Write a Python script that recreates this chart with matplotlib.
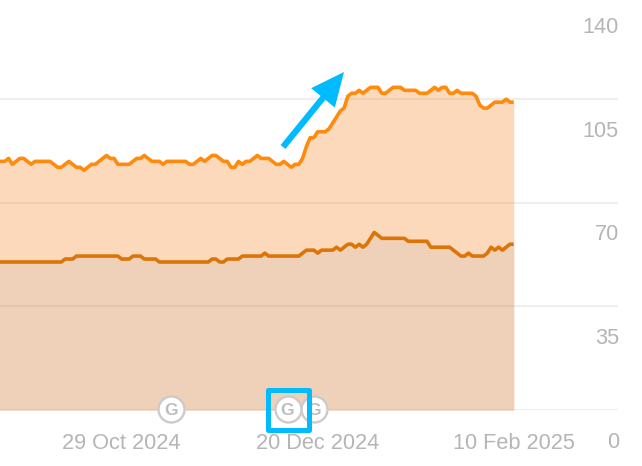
import numpy as np
import pandas as pd
import matplotlib
matplotlib.use("Agg")
import matplotlib.pyplot as plt
import matplotlib.dates as mdates
from matplotlib.patches import Rectangle, FancyArrowPatch
from matplotlib.transforms import ScaledTranslation

top_values = [84,84,84,85,83,84,85,85,84,83,84,84,84,84,84,83,82,82,83,84,83,82,82,81,82,83,83,84,85,86,85,85,83,83,83,83,84,85,85,86,85,84,84,84,83,84,84,84,84,84,84,83,83,84,85,84,85,86,86,85,84,84,82,82,84,83,84,84,85,86,85,85,85,84,83,83,84,83,82,83,83,85,89,92,92,94,94,94,95,97,99,101,102,106,107,107,108,107,108,109,109,109,107,107,108,109,109,109,108,108,108,108,107,107,107,108,109,108,109,109,107,107,108,107,107,107,107,106,103,102,102,103,104,104,104,105,104,104]
bottom_values = [50]*18 + [51,51,51] + [52]*12 + [51,51,51,52,52,52,51,51,51,51] + [50]*14 + [51,51,50,50,51,51,51,51] + [52]*6 + [53] + [52]*9 + [53,54,54,54,53,54,54,54,54,55,54,55,56,56,55,56,55,56,58,60,59,58,58,58,58,58,58,58,57,57,57,57,57,57,55,55,55,55,55,55,54,53,52,52,53,52,52,52,52,53,55,54,55,54,55,56,56]
start_date = "2024-09-26"
dates = pd.date_range(start_date, periods=len(top_values), freq="D")
x_tick_dates = pd.to_datetime(["2024-10-29", "2024-12-20", "2025-02-10"])
x_tick_labels = ["29 Oct 2024", "20 Dec 2024", "10 Feb 2025"]
y_ticks = [0, 35, 70, 105, 140]
g_dates = pd.to_datetime(["2024-11-11", "2024-12-19", "2024-12-12"])

W, H = 642, 466
plt.rcParams['font.family'] = ['Liberation Sans', 'DejaVu Sans']
fig = plt.figure(figsize=(W/100, H/100), dpi=100)
LEFT, RIGHT, BASE = 0, 618, 410
PX_PER_UNIT = 103.6/35
TOP = BASE - 140*PX_PER_UNIT
ax = fig.add_axes([LEFT/W, (H-BASE)/H, (RIGHT-LEFT)/W, (BASE-TOP)/H])
ax.patch.set_alpha(0)
nums = mdates.date2num(dates)
PX_PER_DAY = 3.77
x0 = nums[1] - 1.0/PX_PER_DAY
ax.set_xlim(x0, x0 + (RIGHT-LEFT)/PX_PER_DAY)
ax.set_ylim(0, 140)
for s in ax.spines.values():
    s.set_visible(False)

ax.fill_between(dates, top_values, color="#fdd9bb", lw=0, zorder=2)
ax.fill_between(dates, bottom_values, color="#efd1b9", lw=0, zorder=2.1)
ax.plot(dates, top_values, color="#ff8a0c", lw=2.6, zorder=4, solid_joinstyle="round", solid_capstyle="butt")
ax.plot(dates, bottom_values, color="#dc7508", lw=2.6, zorder=4, solid_joinstyle="round", solid_capstyle="butt")

ax.set_yticks(y_ticks)
ax.yaxis.tick_right()
ax.tick_params(axis="y", length=0, pad=0, labelsize=15.7, labelcolor="#b5b5b5", direction="in")
ax.grid(axis="y", color="#8a8078", lw=1.5, alpha=0.13, zorder=3)
ax.set_axisbelow(False)
for lab in ax.get_yticklabels():
    lab.set_ha("right")
    lab.set_va("center")
    lab.set_transform(lab.get_transform() + ScaledTranslation(1/100, -32/100, fig.dpi_scale_trans))
ax.set_xticks(x_tick_dates)
ax.set_xticklabels(x_tick_labels)
ax.tick_params(axis="x", length=0, pad=16.7, labelsize=15.7, labelcolor="#b5b5b5")

# Google update markers (later ones sit underneath)
for i, d in enumerate(g_dates):
    ax.scatter([d], [0.4], s=350, facecolor="white", edgecolor="#cfcaca", lw=1.7, clip_on=False, zorder=5+i*0.1)
    ax.text(d, 0.4, "G", ha="center", va="center_baseline", color="#bdbdbd", fontsize=12.5, fontweight="bold", zorder=5.05+i*0.1, clip_on=False)

# Blue highlight and arrow annotation
to_x = lambda px: x0 + px/PX_PER_DAY
to_y = lambda py: (BASE-py)/PX_PER_UNIT
BLUE = "#00bcff"
ax.add_patch(Rectangle((to_x(267.5), to_y(430)), 41/PX_PER_DAY, 40/PX_PER_UNIT, fill=False, ec=BLUE, lw=3.6, zorder=7, clip_on=False, joinstyle="round"))
ax.add_patch(FancyArrowPatch((to_x(283), to_y(147)), (to_x(344), to_y(72)), arrowstyle="simple,head_width=22,head_length=24,tail_width=4.5", color=BLUE, lw=0, zorder=7, shrinkA=0, shrinkB=0))

fig.savefig("out.png", dpi=100)
